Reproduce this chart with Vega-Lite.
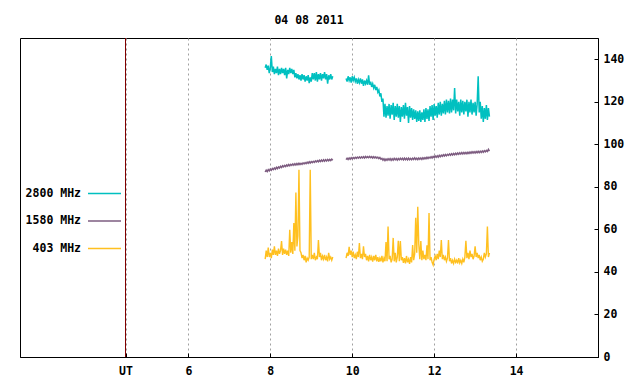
{
  "$schema": "https://vega.github.io/schema/vega-lite/v6.json",
  "width": 578,
  "height": 319,
  "autosize": "none",
  "padding": {"left": 20, "top": 38, "right": 42, "bottom": 27},
  "title": {"text": "04 08 2011", "anchor": "middle", "frame": "group", "baseline": "middle", "offset": 5, "font": "DejaVu Sans Mono", "fontSize": 11.5, "fontWeight": "bold", "color": "black"},
  "config": {
    "view": {"stroke": "black", "strokeWidth": 1},
    "font": "DejaVu Sans Mono",
    "axis": {"labelFont": "DejaVu Sans Mono", "labelFontSize": 11.5, "labelFontWeight": "bold", "labelColor": "black", "domainColor": "black", "tickColor": "black"},
    "legend": {"labelFont": "DejaVu Sans Mono", "labelFontSize": 11.5, "labelFontWeight": "bold", "labelColor": "black"}
  },
  "data": {"values": [
    {"t":7.875,"s":1,"f2800":136,"f1580":87.0,"f403":46},
    {"t":7.900,"s":1,"f2800":137.5,"f1580":87.9,"f403":50},
    {"t":7.925,"s":1,"f2800":135,"f1580":87.2,"f403":47},
    {"t":7.950,"s":1,"f2800":137,"f1580":88.1,"f403":51.5},
    {"t":7.975,"s":1,"f2800":133.5,"f1580":87.5,"f403":47},
    {"t":8.000,"s":1,"f2800":136,"f1580":88.4,"f403":49},
    {"t":8.025,"s":1,"f2800":141.5,"f1580":87.8,"f403":46.5},
    {"t":8.050,"s":1,"f2800":134,"f1580":88.6,"f403":50.5},
    {"t":8.075,"s":1,"f2800":136.5,"f1580":88.1,"f403":48},
    {"t":8.100,"s":1,"f2800":133,"f1580":88.9,"f403":52},
    {"t":8.125,"s":1,"f2800":135.5,"f1580":88.3,"f403":48},
    {"t":8.150,"s":1,"f2800":133.5,"f1580":89.2,"f403":50},
    {"t":8.175,"s":1,"f2800":136.5,"f1580":88.6,"f403":47.5},
    {"t":8.200,"s":1,"f2800":132.5,"f1580":89.4,"f403":51},
    {"t":8.225,"s":1,"f2800":135.5,"f1580":88.9,"f403":48.5},
    {"t":8.250,"s":1,"f2800":133,"f1580":89.7,"f403":50},
    {"t":8.275,"s":1,"f2800":136,"f1580":89.1,"f403":54.5},
    {"t":8.300,"s":1,"f2800":133.5,"f1580":89.9,"f403":48},
    {"t":8.325,"s":1,"f2800":135.5,"f1580":89.4,"f403":51},
    {"t":8.350,"s":1,"f2800":132.5,"f1580":90.1,"f403":48.5},
    {"t":8.375,"s":1,"f2800":136,"f1580":89.6,"f403":50.5},
    {"t":8.400,"s":1,"f2800":131,"f1580":90.3,"f403":48},
    {"t":8.425,"s":1,"f2800":135,"f1580":89.8,"f403":50},
    {"t":8.450,"s":1,"f2800":133,"f1580":90.5,"f403":47.5},
    {"t":8.475,"s":1,"f2800":136,"f1580":89.9,"f403":59.8},
    {"t":8.500,"s":1,"f2800":133.5,"f1580":90.6,"f403":49},
    {"t":8.525,"s":1,"f2800":135.5,"f1580":90.1,"f403":54},
    {"t":8.550,"s":1,"f2800":133,"f1580":90.8,"f403":48.5},
    {"t":8.575,"s":1,"f2800":135,"f1580":90.2,"f403":63},
    {"t":8.600,"s":1,"f2800":131.5,"f1580":90.9,"f403":50},
    {"t":8.625,"s":1,"f2800":133.5,"f1580":90.3,"f403":77.3},
    {"t":8.650,"s":1,"f2800":131,"f1580":91.0,"f403":52},
    {"t":8.675,"s":1,"f2800":133,"f1580":90.4,"f403":57},
    {"t":8.700,"s":1,"f2800":130.5,"f1580":91.1,"f403":88},
    {"t":8.725,"s":1,"f2800":132.5,"f1580":90.5,"f403":50},
    {"t":8.750,"s":1,"f2800":130,"f1580":91.1,"f403":49},
    {"t":8.775,"s":1,"f2800":133,"f1580":90.6,"f403":46.5},
    {"t":8.800,"s":1,"f2800":130.5,"f1580":91.3,"f403":48},
    {"t":8.825,"s":1,"f2800":132.5,"f1580":90.8,"f403":45.5},
    {"t":8.850,"s":1,"f2800":129.5,"f1580":91.4,"f403":47.5},
    {"t":8.875,"s":1,"f2800":132,"f1580":90.9,"f403":44.5},
    {"t":8.900,"s":1,"f2800":130,"f1580":91.6,"f403":46.5},
    {"t":8.925,"s":1,"f2800":132.5,"f1580":91.1,"f403":45.5},
    {"t":8.950,"s":1,"f2800":128.8,"f1580":91.8,"f403":47},
    {"t":8.975,"s":1,"f2800":131.5,"f1580":91.2,"f403":88},
    {"t":9.000,"s":1,"f2800":129.5,"f1580":91.9,"f403":46},
    {"t":9.025,"s":1,"f2800":133.5,"f1580":91.4,"f403":48},
    {"t":9.050,"s":1,"f2800":130.5,"f1580":92.0,"f403":46},
    {"t":9.075,"s":1,"f2800":133.5,"f1580":91.5,"f403":49},
    {"t":9.100,"s":1,"f2800":130,"f1580":92.2,"f403":45.5},
    {"t":9.125,"s":1,"f2800":134,"f1580":91.7,"f403":47},
    {"t":9.150,"s":1,"f2800":129.5,"f1580":92.3,"f403":46},
    {"t":9.175,"s":1,"f2800":133,"f1580":91.8,"f403":55},
    {"t":9.200,"s":1,"f2800":130.5,"f1580":92.5,"f403":47},
    {"t":9.225,"s":1,"f2800":133.5,"f1580":91.9,"f403":49},
    {"t":9.250,"s":1,"f2800":130,"f1580":92.6,"f403":45.5},
    {"t":9.275,"s":1,"f2800":133,"f1580":92.0,"f403":47.5},
    {"t":9.300,"s":1,"f2800":131,"f1580":92.7,"f403":46},
    {"t":9.325,"s":1,"f2800":134,"f1580":92.1,"f403":48},
    {"t":9.350,"s":1,"f2800":130.5,"f1580":92.8,"f403":45.5},
    {"t":9.375,"s":1,"f2800":133,"f1580":92.2,"f403":47},
    {"t":9.400,"s":1,"f2800":128.5,"f1580":92.9,"f403":45},
    {"t":9.425,"s":1,"f2800":132.5,"f1580":92.3,"f403":49},
    {"t":9.450,"s":1,"f2800":130.5,"f1580":92.9,"f403":46},
    {"t":9.475,"s":1,"f2800":133,"f1580":92.4,"f403":47},
    {"t":9.500,"s":1,"f2800":130.5,"f1580":93.0,"f403":45.5},
    {"t":9.525,"s":1,"f2800":132,"f1580":92.5,"f403":47},
    {"t":9.850,"s":2,"f2800":131,"f1580":92.8,"f403":46.5},
    {"t":9.875,"s":2,"f2800":129.5,"f1580":93.5,"f403":49},
    {"t":9.900,"s":2,"f2800":132,"f1580":92.9,"f403":47.5},
    {"t":9.925,"s":2,"f2800":130,"f1580":93.6,"f403":51.8},
    {"t":9.950,"s":2,"f2800":131.5,"f1580":93.0,"f403":48},
    {"t":9.975,"s":2,"f2800":129,"f1580":93.7,"f403":50},
    {"t":10.000,"s":2,"f2800":132,"f1580":93.2,"f403":47},
    {"t":10.025,"s":2,"f2800":130,"f1580":93.8,"f403":49.5},
    {"t":10.050,"s":2,"f2800":131.5,"f1580":93.3,"f403":46.5},
    {"t":10.075,"s":2,"f2800":129.5,"f1580":93.9,"f403":48},
    {"t":10.100,"s":2,"f2800":131,"f1580":93.4,"f403":46},
    {"t":10.125,"s":2,"f2800":128.5,"f1580":94.0,"f403":49.5},
    {"t":10.150,"s":2,"f2800":130.5,"f1580":93.5,"f403":47},
    {"t":10.175,"s":2,"f2800":129,"f1580":94.1,"f403":53.6},
    {"t":10.200,"s":2,"f2800":131,"f1580":93.5,"f403":46.5},
    {"t":10.225,"s":2,"f2800":128.5,"f1580":94.1,"f403":48.5},
    {"t":10.250,"s":2,"f2800":130.5,"f1580":93.6,"f403":46},
    {"t":10.275,"s":2,"f2800":127.5,"f1580":94.2,"f403":52},
    {"t":10.300,"s":2,"f2800":130,"f1580":93.6,"f403":47},
    {"t":10.325,"s":2,"f2800":128.5,"f1580":94.3,"f403":48.5},
    {"t":10.350,"s":2,"f2800":130,"f1580":93.7,"f403":45.5},
    {"t":10.375,"s":2,"f2800":128,"f1580":94.2,"f403":47.5},
    {"t":10.400,"s":2,"f2800":132.5,"f1580":93.7,"f403":45},
    {"t":10.425,"s":2,"f2800":128,"f1580":94.3,"f403":48},
    {"t":10.450,"s":2,"f2800":129.5,"f1580":93.7,"f403":45.5},
    {"t":10.475,"s":2,"f2800":127,"f1580":94.2,"f403":47},
    {"t":10.500,"s":2,"f2800":128.5,"f1580":93.6,"f403":44.8},
    {"t":10.525,"s":2,"f2800":126.5,"f1580":94.2,"f403":47.5},
    {"t":10.550,"s":2,"f2800":128,"f1580":93.6,"f403":45.5},
    {"t":10.575,"s":2,"f2800":125.5,"f1580":94.1,"f403":48},
    {"t":10.600,"s":2,"f2800":127,"f1580":93.5,"f403":45},
    {"t":10.625,"s":2,"f2800":124.5,"f1580":94.0,"f403":47},
    {"t":10.650,"s":2,"f2800":125.5,"f1580":93.3,"f403":44.7},
    {"t":10.675,"s":2,"f2800":122.5,"f1580":93.8,"f403":46.5},
    {"t":10.700,"s":2,"f2800":124,"f1580":93.0,"f403":45},
    {"t":10.725,"s":2,"f2800":120,"f1580":93.4,"f403":47.5},
    {"t":10.750,"s":2,"f2800":121.5,"f1580":92.6,"f403":44.5},
    {"t":10.775,"s":2,"f2800":113,"f1580":93.2,"f403":46.5},
    {"t":10.800,"s":2,"f2800":119,"f1580":92.4,"f403":45},
    {"t":10.825,"s":2,"f2800":112.5,"f1580":93.1,"f403":54},
    {"t":10.850,"s":2,"f2800":118,"f1580":92.5,"f403":45},
    {"t":10.875,"s":2,"f2800":113.5,"f1580":93.2,"f403":61.3},
    {"t":10.900,"s":2,"f2800":119,"f1580":92.6,"f403":46},
    {"t":10.925,"s":2,"f2800":112,"f1580":93.3,"f403":47.5},
    {"t":10.950,"s":2,"f2800":118.5,"f1580":92.5,"f403":44.5},
    {"t":10.975,"s":2,"f2800":114,"f1580":93.2,"f403":46},
    {"t":11.000,"s":2,"f2800":119.5,"f1580":92.6,"f403":56},
    {"t":11.025,"s":2,"f2800":111.5,"f1580":93.4,"f403":45},
    {"t":11.050,"s":2,"f2800":118,"f1580":92.7,"f403":49},
    {"t":11.075,"s":2,"f2800":113,"f1580":93.3,"f403":44.5},
    {"t":11.100,"s":2,"f2800":119,"f1580":92.6,"f403":47},
    {"t":11.125,"s":2,"f2800":112.5,"f1580":93.3,"f403":54.6},
    {"t":11.150,"s":2,"f2800":118,"f1580":92.7,"f403":45},
    {"t":11.175,"s":2,"f2800":110.5,"f1580":93.4,"f403":54.5},
    {"t":11.200,"s":2,"f2800":117.5,"f1580":92.8,"f403":45.5},
    {"t":11.225,"s":2,"f2800":113,"f1580":93.4,"f403":47},
    {"t":11.250,"s":2,"f2800":118.5,"f1580":92.7,"f403":44.3},
    {"t":11.275,"s":2,"f2800":112,"f1580":93.5,"f403":46.5},
    {"t":11.300,"s":2,"f2800":119.5,"f1580":92.8,"f403":44},
    {"t":11.325,"s":2,"f2800":113.5,"f1580":93.4,"f403":47.5},
    {"t":11.350,"s":2,"f2800":117.5,"f1580":92.7,"f403":44.5},
    {"t":11.375,"s":2,"f2800":110,"f1580":93.5,"f403":46},
    {"t":11.400,"s":2,"f2800":118,"f1580":92.8,"f403":43.8},
    {"t":11.425,"s":2,"f2800":112.5,"f1580":93.4,"f403":47},
    {"t":11.450,"s":2,"f2800":117,"f1580":92.8,"f403":44.5},
    {"t":11.475,"s":2,"f2800":111.5,"f1580":93.5,"f403":52.7},
    {"t":11.500,"s":2,"f2800":116.5,"f1580":92.9,"f403":45.5},
    {"t":11.525,"s":2,"f2800":112,"f1580":93.6,"f403":48.5},
    {"t":11.550,"s":2,"f2800":116,"f1580":92.9,"f403":65.5},
    {"t":11.575,"s":2,"f2800":110.5,"f1580":93.5,"f403":49},
    {"t":11.600,"s":2,"f2800":115.5,"f1580":92.8,"f403":70.7},
    {"t":11.625,"s":2,"f2800":111,"f1580":93.6,"f403":53},
    {"t":11.650,"s":2,"f2800":116,"f1580":93.0,"f403":46},
    {"t":11.675,"s":2,"f2800":110.5,"f1580":93.6,"f403":54.5},
    {"t":11.700,"s":2,"f2800":115,"f1580":92.9,"f403":45.5},
    {"t":11.725,"s":2,"f2800":111.5,"f1580":93.7,"f403":50},
    {"t":11.750,"s":2,"f2800":116.5,"f1580":93.1,"f403":46},
    {"t":11.775,"s":2,"f2800":110.5,"f1580":93.7,"f403":48},
    {"t":11.800,"s":2,"f2800":117,"f1580":93.2,"f403":45.5},
    {"t":11.825,"s":2,"f2800":112,"f1580":93.9,"f403":52.5},
    {"t":11.850,"s":2,"f2800":116.5,"f1580":93.3,"f403":46},
    {"t":11.875,"s":2,"f2800":111,"f1580":94.0,"f403":67.7},
    {"t":11.900,"s":2,"f2800":118,"f1580":93.5,"f403":45.5},
    {"t":11.925,"s":2,"f2800":113,"f1580":94.2,"f403":47},
    {"t":11.950,"s":2,"f2800":118.5,"f1580":93.6,"f403":44.5},
    {"t":11.975,"s":2,"f2800":111.5,"f1580":94.3,"f403":43.3},
    {"t":12.000,"s":2,"f2800":119,"f1580":93.8,"f403":46},
    {"t":12.025,"s":2,"f2800":113.5,"f1580":94.5,"f403":47.5},
    {"t":12.050,"s":2,"f2800":118,"f1580":93.9,"f403":45.5},
    {"t":12.075,"s":2,"f2800":112.5,"f1580":94.6,"f403":48.5},
    {"t":12.100,"s":2,"f2800":119.5,"f1580":94.0,"f403":46},
    {"t":12.125,"s":2,"f2800":114,"f1580":94.8,"f403":50},
    {"t":12.150,"s":2,"f2800":120,"f1580":94.2,"f403":47},
    {"t":12.175,"s":2,"f2800":113.5,"f1580":94.9,"f403":55},
    {"t":12.200,"s":2,"f2800":119,"f1580":94.4,"f403":46},
    {"t":12.225,"s":2,"f2800":114.5,"f1580":95.1,"f403":48},
    {"t":12.250,"s":2,"f2800":120.5,"f1580":94.5,"f403":45.5},
    {"t":12.275,"s":2,"f2800":114,"f1580":95.2,"f403":47},
    {"t":12.300,"s":2,"f2800":121,"f1580":94.6,"f403":45},
    {"t":12.325,"s":2,"f2800":115,"f1580":95.3,"f403":46.5},
    {"t":12.350,"s":2,"f2800":120.5,"f1580":94.8,"f403":55},
    {"t":12.375,"s":2,"f2800":114.5,"f1580":95.5,"f403":45},
    {"t":12.400,"s":2,"f2800":121.5,"f1580":94.9,"f403":46.5},
    {"t":12.425,"s":2,"f2800":115,"f1580":95.6,"f403":44},
    {"t":12.450,"s":2,"f2800":121,"f1580":95.0,"f403":45.5},
    {"t":12.475,"s":2,"f2800":116,"f1580":95.7,"f403":44},
    {"t":12.500,"s":2,"f2800":126.5,"f1580":95.1,"f403":46},
    {"t":12.525,"s":2,"f2800":114.5,"f1580":95.8,"f403":44.5},
    {"t":12.550,"s":2,"f2800":121,"f1580":95.2,"f403":45.5},
    {"t":12.575,"s":2,"f2800":115.5,"f1580":95.9,"f403":44},
    {"t":12.600,"s":2,"f2800":120,"f1580":95.3,"f403":46.5},
    {"t":12.625,"s":2,"f2800":113.5,"f1580":96.0,"f403":44.3},
    {"t":12.650,"s":2,"f2800":121,"f1580":95.4,"f403":45.5},
    {"t":12.675,"s":2,"f2800":115,"f1580":96.1,"f403":44},
    {"t":12.700,"s":2,"f2800":120.5,"f1580":95.5,"f403":46},
    {"t":12.725,"s":2,"f2800":114,"f1580":96.2,"f403":44.5},
    {"t":12.750,"s":2,"f2800":120,"f1580":95.6,"f403":47},
    {"t":12.775,"s":2,"f2800":115.5,"f1580":96.2,"f403":54.6},
    {"t":12.800,"s":2,"f2800":121,"f1580":95.6,"f403":46.5},
    {"t":12.825,"s":2,"f2800":113,"f1580":96.3,"f403":49},
    {"t":12.850,"s":2,"f2800":120,"f1580":95.7,"f403":46},
    {"t":12.875,"s":2,"f2800":115,"f1580":96.4,"f403":50},
    {"t":12.900,"s":2,"f2800":121,"f1580":95.8,"f403":47},
    {"t":12.925,"s":2,"f2800":114,"f1580":96.5,"f403":48.5},
    {"t":12.950,"s":2,"f2800":119.5,"f1580":95.9,"f403":46},
    {"t":12.975,"s":2,"f2800":115,"f1580":96.5,"f403":47.5},
    {"t":13.000,"s":2,"f2800":120,"f1580":95.9,"f403":52},
    {"t":13.025,"s":2,"f2800":113.5,"f1580":96.6,"f403":47},
    {"t":13.050,"s":2,"f2800":119,"f1580":96.0,"f403":49},
    {"t":13.075,"s":2,"f2800":132,"f1580":96.7,"f403":46.5},
    {"t":13.100,"s":2,"f2800":115,"f1580":96.1,"f403":48},
    {"t":13.125,"s":2,"f2800":120,"f1580":96.8,"f403":45.5},
    {"t":13.150,"s":2,"f2800":112,"f1580":96.2,"f403":47},
    {"t":13.175,"s":2,"f2800":118,"f1580":96.9,"f403":45},
    {"t":13.200,"s":2,"f2800":110.5,"f1580":96.3,"f403":46},
    {"t":13.225,"s":2,"f2800":117,"f1580":97.0,"f403":49},
    {"t":13.250,"s":2,"f2800":112,"f1580":96.5,"f403":47},
    {"t":13.275,"s":2,"f2800":118.5,"f1580":97.1,"f403":48.5},
    {"t":13.300,"s":2,"f2800":111.5,"f1580":96.6,"f403":61.3},
    {"t":13.325,"s":2,"f2800":117,"f1580":97.6,"f403":47},
    {"t":13.350,"s":2,"f2800":113,"f1580":96.8,"f403":49}
  ]},
  "layer": [
    {
      "mark": {"type": "line", "strokeWidth": 1.5, "clip": true},
      "encoding": {
        "x": {"field": "t", "type": "quantitative",
          "scale": {"domain": [1.89, 16], "nice": false, "zero": false},
          "axis": {"orient": "bottom", "values": [4.4655, 6, 8, 10, 12, 14],
            "labelExpr": "datum.value < 5 ? 'UT' : datum.label",
            "grid": true, "gridColor": "#a0a0a0", "gridDash": [2, 3], "gridWidth": 1,
            "tickSize": -4, "labelPadding": 12,
            "domain": true, "title": null}},
        "y": {"field": "f2800", "type": "quantitative",
          "scale": {"domain": [0, 150], "nice": false, "zero": true},
          "axis": {"orient": "right", "values": [0, 20, 40, 60, 80, 100, 120, 140], "grid": false,
            "tickSize": -4, "labelPadding": 9, "labelAlign": "left", "title": null}},
        "detail": {"field": "s", "type": "nominal"},
        "color": {"datum": "2800 MHz", "type": "nominal",
          "scale": {"domain": ["2800 MHz", "1580 MHz", "403 MHz"], "range": ["#00c0c0", "#7d5c80", "#ffc020"]},
          "legend": {"orient": "none", "legendX": 67, "legendY": 138, "title": null,
            "symbolType": "stroke", "symbolSize": 1089, "symbolStrokeWidth": 1.3,
            "labelAlign": "right", "labelOffset": -41, "rowPadding": 4.5}}
      }
    },
    {
      "mark": {"type": "line", "strokeWidth": 1.5, "clip": true},
      "encoding": {
        "x": {"field": "t", "type": "quantitative"},
        "y": {"field": "f1580", "type": "quantitative"},
        "detail": {"field": "s", "type": "nominal"},
        "color": {"datum": "1580 MHz", "type": "nominal"}
      }
    },
    {
      "mark": {"type": "line", "strokeWidth": 1.4, "clip": true},
      "encoding": {
        "x": {"field": "t", "type": "quantitative"},
        "y": {"field": "f403", "type": "quantitative"},
        "detail": {"field": "s", "type": "nominal"},
        "color": {"datum": "403 MHz", "type": "nominal"}
      }
    },
    {
      "mark": {"type": "rule", "color": "#800000", "strokeWidth": 1},
      "encoding": {"x": {"datum": 4.4655, "type": "quantitative"}}
    }
  ]
}
